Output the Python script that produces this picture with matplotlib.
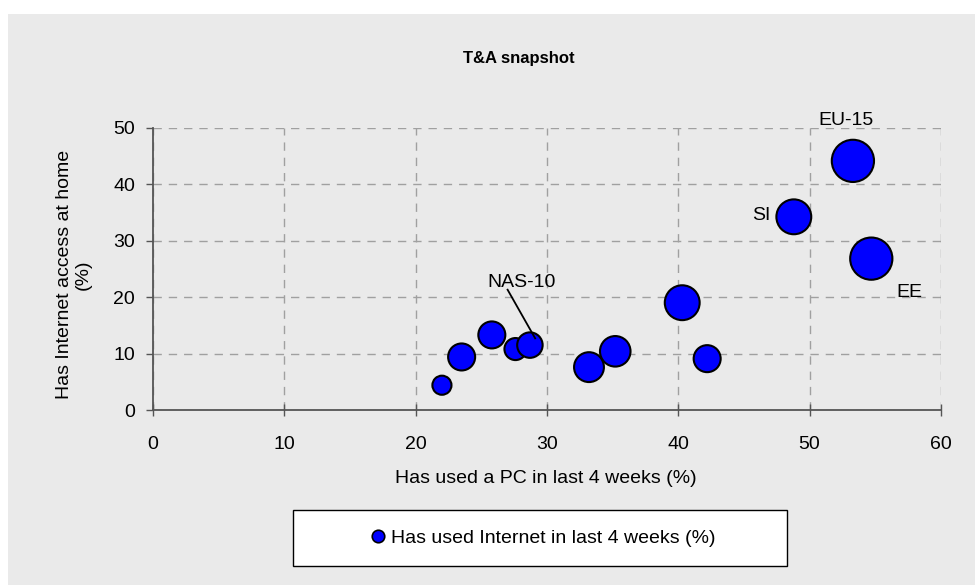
import matplotlib
matplotlib.use("Agg")
from matplotlib import pyplot as plt
from matplotlib.patches import Rectangle
from matplotlib.lines import Line2D

plt.rcParams['font.family'] = ['Liberation Sans', 'DejaVu Sans']

# Has used a PC in last 4 weeks (%)
pc_use = [22.0, 23.5, 25.8, 27.6, 28.7, 33.2, 35.2, 40.3, 42.2, 48.8, 53.3, 54.7]
# Has Internet access at home (%)
home_access = [4.4, 9.4, 13.3, 10.8, 11.5, 7.6, 10.4, 19.0, 9.1, 34.2, 44.1, 26.8]
# Has used Internet in last 4 weeks (%) -> bubble size
internet_use = [9, 18, 18, 12, 16, 22, 23, 30, 18, 30, 44, 44]

nas_idx = 4

fig = plt.figure(figsize=(9.75, 5.85), dpi=100)
fig.patch.set_facecolor('white')
bg = '#eaeaea'
fig.patches.append(Rectangle((8 / 975, 0), 1, 1 - 14 / 585, transform=fig.transFigure,
                             facecolor=bg, edgecolor='none', zorder=-10))

ax = fig.add_axes([0.157, 0.299, 0.808, 0.483])
ax.set_facecolor(bg)

sizes = [v * 21 for v in internet_use]
ax.scatter(pc_use, home_access, s=sizes, color='#0000ff', edgecolors='black',
           linewidths=1.5, zorder=3)

ax.set_xlim(0, 60)
ax.set_ylim(0, 50)
ax.set_xticks(range(0, 61, 10))
ax.set_yticks(range(0, 51, 10))
ax.grid(True, color='#a0a0a0', linestyle=(0, (6, 5)), linewidth=1)
ax.set_axisbelow(True)

for s in ['top', 'right']:
    ax.spines[s].set_visible(False)
for s in ['left', 'bottom']:
    ax.spines[s].set_color('#555555')
    ax.spines[s].set_linewidth(1.3)
ax.tick_params(axis='x', direction='inout', length=8, width=1, color='#555555',
               labelsize=14, pad=15)
ax.tick_params(axis='y', direction='out', length=5, width=1, color='#555555',
               labelsize=14, pad=8)

ax.set_xlabel('Has used a PC in last 4 weeks (%)', fontsize=14)
ax.xaxis.set_label_coords(0.499, -0.212)
ax.set_ylabel('Has Internet access at home\n(%)', fontsize=14, linespacing=1.1)
ax.yaxis.set_label_coords(-0.078, 0.48)
fig.text(0.532, 1 - 58 / 585, 'T&A snapshot', ha='center', va='center',
         fontsize=12, fontweight='bold')

# point labels
ax.text(52.75, 51.3, 'EU-15', ha='center', va='center', fontsize=14)
ax.text(47.0, 34.4, 'SI', ha='right', va='center', fontsize=14)
ax.text(57.6, 20.8, 'EE', ha='center', va='center', fontsize=14)
ax.text(28.1, 22.6, 'NAS-10', ha='center', va='center', fontsize=14)
ax.plot([27.0, pc_use[nas_idx] + 0.4], [21.3, home_access[nas_idx] + 1.2],
        color='black', linewidth=1.3, zorder=4)

# legend box
fig.patches.append(Rectangle((293 / 975, 1 - 566 / 585), 494 / 975, 56 / 585,
                             transform=fig.transFigure, facecolor='white',
                             edgecolor='black', linewidth=1, zorder=-5))
handle = Line2D([], [], marker='o', linestyle='none', markersize=9,
                markerfacecolor='#0000ff', markeredgecolor='black',
                markeredgewidth=1.2)
fig.legend([handle], ['Has used Internet in last 4 weeks (%)'], loc='center',
           bbox_to_anchor=(542 / 975, 1 - 538 / 585), frameon=False,
           fontsize=14, handletextpad=0.2, handlelength=1.0)

fig.savefig('out.png', dpi=100, facecolor=fig.get_facecolor())
